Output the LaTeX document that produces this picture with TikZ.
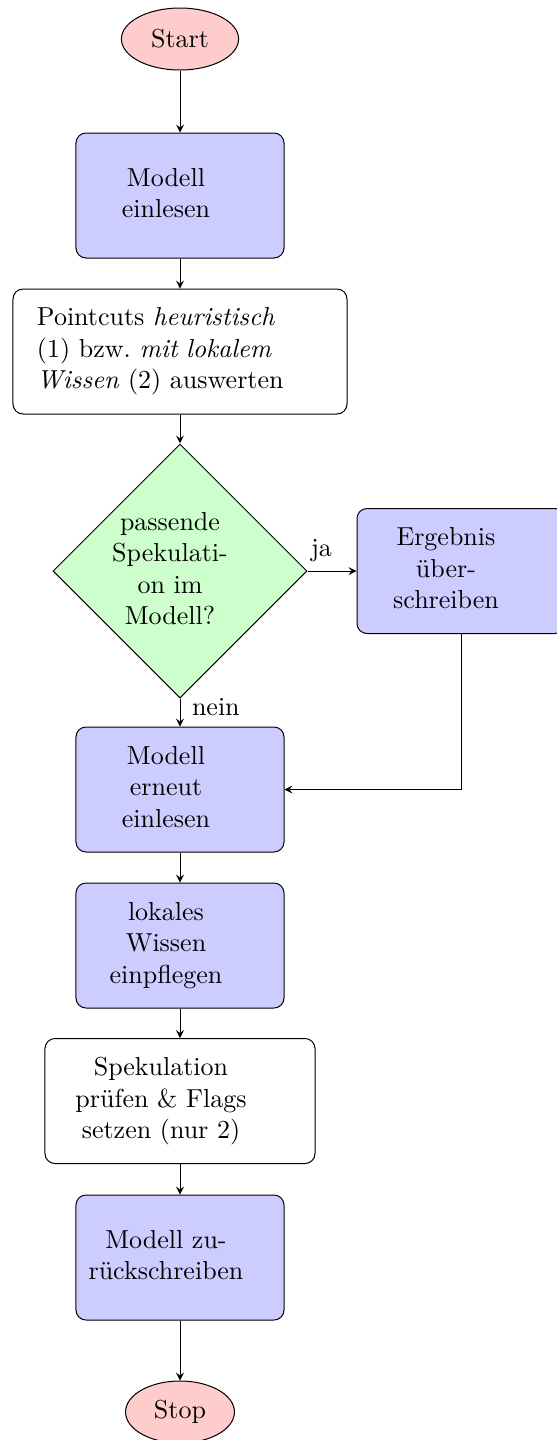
\documentclass[tikz,border=0pt]{standalone}
\usetikzlibrary{shapes.geometric}

% centered lines with extra room on the right
\newcommand{\boxlines}[2]{\begin{tabular}{@{}c@{\hspace{#1}}}#2\end{tabular}}

\tikzset{
  terminal/.style={ellipse, draw, fill=red!20, inner xsep=5pt, minimum height=24.8pt},
  process/.style={rectangle, rounded corners, draw, fill=blue!20,
    minimum width=83.2pt, minimum height=50pt, inner sep=0pt},
  whitebox/.style={rectangle, rounded corners, draw, fill=white, minimum height=50pt},
  decision/.style={diamond, draw, fill=green!20, aspect=1, inner sep=-3pt,
    minimum width=101.6pt, minimum height=101.6pt},
  flow/.style={-stealth},
  edgelabel/.style={inner sep=0pt, anchor=base west, pos=0}
}

\begin{document}
\begin{tikzpicture}[x=0.4pt, y=-0.4pt, font=\fontsize{10.4pt}{12.6pt}\selectfont]
  \useasboundingbox (0,0) rectangle (557,1440);

  \node[terminal] (start) at (180,39) {Start};
  \node[process] (read) at (180,195.5) {\boxlines{11.2pt}{Modell\\einlesen}};
  \node[whitebox, minimum width=133.6pt, text width=114.4pt, inner xsep=9.6pt, align=left]
    (eval) at (180,351.5)
    {Pointcuts \emph{heuristisch}\\(1) bzw.\ \emph{mit lokalem}\\\emph{Wissen} (2) auswerten};
  \node[decision] (dec) at (180,571) {\boxlines{8pt}{passende\\Spekulati-\\on im\\Modell?}};
  \node[process] (over) at (461,571) {\boxlines{12pt}{Ergebnis\\über-\\schreiben}};
  \node[process] (reread) at (180,789.5) {\boxlines{11.2pt}{Modell\\erneut\\einlesen}};
  \node[process] (local) at (180,945.5) {\boxlines{11.2pt}{lokales\\Wissen\\einpflegen}};
  \node[whitebox, minimum width=108pt] (check) at (180,1101)
    {\boxlines{15.2pt}{Spekulation\\prüfen \& Flags\\setzen (nur 2)}};
  \node[process] (write) at (180,1257.5) {\boxlines{11.2pt}{Modell zu-\\rückschreiben}};
  \node[terminal] (stop) at (180,1412) {Stop};

  \draw[flow] (start) -- (read);
  \draw[flow] (read) -- (eval);
  \draw[flow] (eval) -- (dec);
  \draw[flow] (dec) -- node[edgelabel, xshift=1.2pt, yshift=6pt] {ja} (over);
  \draw[flow] (dec) -- node[edgelabel, xshift=4.6pt, yshift=-6.6pt] {nein} (reread);
  \draw[flow] (over) |- (reread);
  \draw[flow] (reread) -- (local);
  \draw[flow] (local) -- (check);
  \draw[flow] (check) -- (write);
  \draw[flow] (write) -- (stop);
\end{tikzpicture}
\end{document}
